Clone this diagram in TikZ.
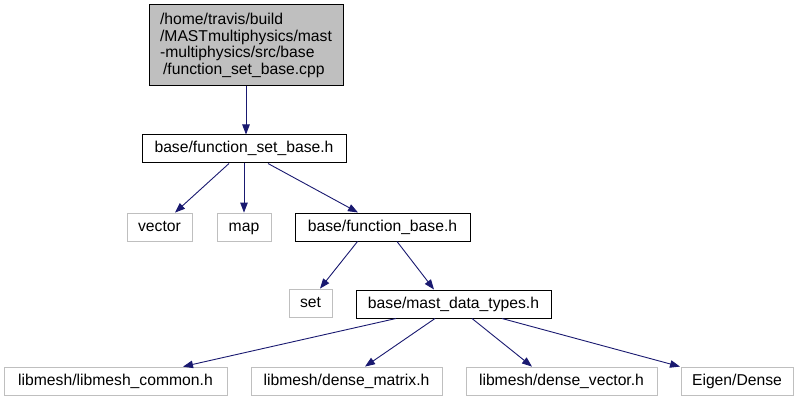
\documentclass[tikz,border=0pt]{standalone}
\usepackage{fontspec}
\setmainfont{Liberation Sans}
\usetikzlibrary{arrows.meta}
\definecolor{edgeblue}{HTML}{191970}
\definecolor{boxgray}{HTML}{BFBFBF}

\begin{document}
\begin{tikzpicture}[x=1pt, y=-1pt,
  file/.style={draw=black, line width=1pt, inner sep=0pt, minimum height=28pt,
    text height=11.5pt, text depth=3.5pt,
    font=\fontsize{15.7}{16.5}\selectfont},
  extfile/.style={file, draw=boxgray, line width=0.8pt},
  edge/.style={draw=edgeblue, line width=0.9pt, -{Triangle[length=10pt, width=7.5pt]}}]
\useasboundingbox (0,0) rectangle (801,401);

% Source file
\node[file, fill=boxgray, minimum width=194pt, minimum height=81pt, align=left,
  text height=, text depth=] (src) at (246,45.5)
  {/home/travis/build\\/MASTmultiphysics/mast\\-multiphysics/src/base\\\hspace*{3pt}/function\_set\_base.cpp};

% Headers
\node[file, minimum width=204pt] (fsb) at (244,149) {base/function\_set\_base.h};
\node[extfile, minimum width=65pt] (vector) at (159.5,227) {vector};
\node[extfile, minimum width=54pt] (map) at (244,227) {map};
\node[file, minimum width=175pt] (fb) at (382.5,227) {base/function\_base.h};
\node[extfile, minimum width=43pt] (set) at (310.5,303) {set};
\node[file, minimum width=195pt] (mdt) at (453.5,304) {base/mast\_data\_types.h};

% Bottom row
\node[extfile, minimum width=223pt] (common) at (115.5,381) {libmesh/libmesh\_common.h};
\node[extfile, minimum width=191pt] (matrix) at (346.5,381) {libmesh/dense\_matrix.h};
\node[extfile, minimum width=191pt] (dvector) at (561.5,381) {libmesh/dense\_vector.h};
\node[extfile, minimum width=112pt] (eigen) at (737,381) {Eigen/Dense};

% Includes
\draw[edge] (src.south) -- (src.south |- fsb.north);
\draw[edge] ([xshift=-15pt]fsb.south) -- ([xshift=15.5pt]vector.north);
\draw[edge] (fsb.south) -- (map.north);
\draw[edge] ([xshift=24pt]fsb.south) -- ([xshift=-24.5pt]fb.north);
\draw[edge] ([xshift=-25pt]fb.south) -- ([xshift=9.5pt]set.north);
\draw[edge] ([xshift=14.5pt]fb.south) -- ([xshift=-19.5pt]mdt.north);
\draw[edge] ([xshift=-57.5pt]mdt.south) -- ([xshift=67.5pt]common.north);
\draw[edge] ([xshift=-18.5pt]mdt.south) -- ([xshift=18.5pt]matrix.north);
\draw[edge] ([xshift=18.5pt]mdt.south) -- ([xshift=-29.5pt]dvector.north);
\draw[edge] ([xshift=48.5pt]mdt.south) -- ([xshift=-57pt]eigen.north);

\end{tikzpicture}
\end{document}
